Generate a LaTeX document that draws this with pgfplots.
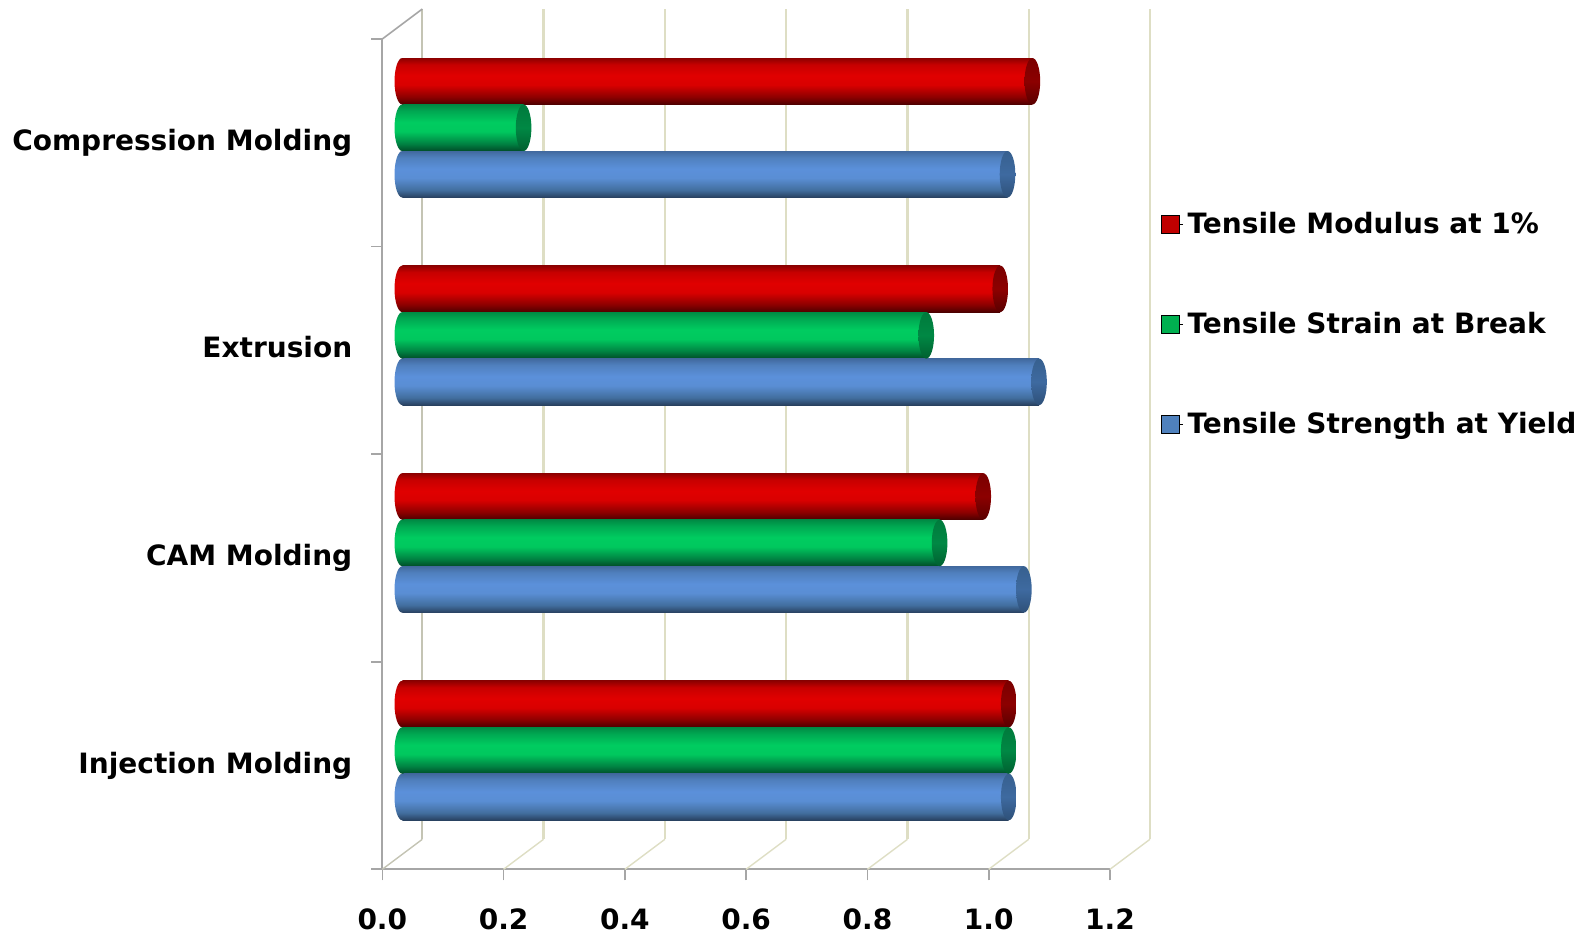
\documentclass[border=0pt]{standalone}
\usepackage{fontspec}
\setmainfont{DejaVu Sans}
\usepackage{pgfplots}
\pgfplotsset{compat=1.18}

% 1 reference pixel = 0.5pt
\def\u{0.5pt}

\definecolor{axisgray}{HTML}{A6A6A6}
\definecolor{wallline}{HTML}{DEDEC4}
\definecolor{wallzero}{HTML}{C4C4B4}
\definecolor{keyred}{HTML}{C00000}
\definecolor{keygreen}{HTML}{00B050}
\definecolor{keyblue}{HTML}{4F81BD}

% tikz maps the path's box on 25bp..75bp of the shading; 25bp is the bottom edge
\pgfdeclareverticalshading{redcyl}{100bp}{
  color(0bp)=(red!30!black); color(25bp)=(red!30!black); color(33bp)=(red!55!black);
  color(46bp)=(red!85!black); color(56bp)=(red!88!black); color(68bp)=(red!78!black);
  color(75bp)=(red!55!black); color(100bp)=(red!55!black)}
\definecolor{g1}{HTML}{004C28}\definecolor{g2}{HTML}{008242}\definecolor{g3}{HTML}{00C85E}
\definecolor{g4}{HTML}{00CC60}\definecolor{g5}{HTML}{00A852}\definecolor{g6}{HTML}{008A44}
\pgfdeclareverticalshading{greencyl}{100bp}{
  color(0bp)=(g1); color(25bp)=(g1); color(33bp)=(g2);
  color(46bp)=(g3); color(56bp)=(g4); color(68bp)=(g5);
  color(75bp)=(g6); color(100bp)=(g6)}
\definecolor{b1}{HTML}{28405F}\definecolor{b2}{HTML}{426E9E}\definecolor{b3}{HTML}{5A8ED4}
\definecolor{b4}{HTML}{5B90DA}\definecolor{b5}{HTML}{5080BE}\definecolor{b6}{HTML}{41699E}
\pgfdeclareverticalshading{bluecyl}{100bp}{
  color(0bp)=(b1); color(25bp)=(b1); color(33bp)=(b2);
  color(46bp)=(b3); color(56bp)=(b4); color(68bp)=(b5);
  color(75bp)=(b6); color(100bp)=(b6)}
% end faces
\pgfdeclareverticalshading{redcap}{100bp}{
  color(0bp)=(red!35!black); color(25bp)=(red!35!black); color(50bp)=(red!55!black); color(75bp)=(red!48!black); color(100bp)=(red!48!black)}
\definecolor{gc1}{HTML}{006030}\definecolor{gc2}{HTML}{008844}\definecolor{gc3}{HTML}{007A3C}
\pgfdeclareverticalshading{greencap}{100bp}{
  color(0bp)=(gc1); color(25bp)=(gc1); color(50bp)=(gc2); color(75bp)=(gc3); color(100bp)=(gc3)}
\definecolor{bc1}{HTML}{2E5078}\definecolor{bc2}{HTML}{3E6AA0}\definecolor{bc3}{HTML}{37608F}
\pgfdeclareverticalshading{bluecap}{100bp}{
  color(0bp)=(bc1); color(25bp)=(bc1); color(50bp)=(bc2); color(75bp)=(bc3); color(100bp)=(bc3)}

\pgfdeclareplotmark{cyl end}{\shade[draw=none] (0,0) ellipse ({7.8*\u} and {23.25*\u});}

\pgfplotsset{frame/.style={
    scale only axis, anchor=south west,
    width={727.7*\u}, height={830.3*\u},
    xmin=0, xmax=1.2, ymin=0, ymax=4,
    clip=false,
  }
}

% one cylinder (each its own plot, or one shading spans all bars of a series):
% value, position in category units, body shading, end shading
\newcommand{\cyl}[4]{%
  \addplot[forget plot, only marks, mark=cyl end, mark options={draw=none, shading=#3}] coordinates {(0,#2)};
  \addplot[forget plot, xbar, bar width=23.25pt, bar shift=0pt, draw=none, shading=#3] coordinates {(#1,#2)};
  \addplot[forget plot, only marks, mark=cyl end, mark options={draw=none, shading=#4}] coordinates {(#1,#2)};
}

\begin{document}
\begin{tikzpicture}
  \path[use as bounding box] (0,0) rectangle ({1589*\u},{936*\u});

  % back wall grid
  \begin{axis}[frame, at={({422.3*\u},{96.7*\u})},
      axis line style={draw=none}, tick style={draw=none},
      xtick={0.2,0.4,...,1.2}, ytick=\empty, xticklabels={},
      extra x ticks={0}, extra x tick labels={},
      extra x tick style={grid style={wallzero, line width=1pt}},
      xmajorgrids, grid style={wallline, line width=1.1pt}]
  \end{axis}

  % front axis with the ticks and labels
  \begin{axis}[frame, at={({382.3*\u},{66.7*\u})},
      axis x line*=bottom, axis y line*=left,
      axis line style={axisgray, line width=1pt, -},
      tick style={axisgray, line width=0.8pt},
      tick align=outside, major tick length={11*\u},
      xtick={0,0.2,...,1.2},
      ytick={0,1,2,3,4},
      y tick label as interval,
      yticklabels={Injection Molding,CAM Molding,Extrusion,Compression Molding},
      tick label style={font=\fontsize{14}{16}\selectfont\bfseries},
      xticklabel style={/pgf/number format/fixed, /pgf/number format/fixed zerofill,
        /pgf/number format/precision=1, /pgf/number format/assume math mode=true,
        yshift={-21*\u}},
      yticklabel style={xshift={-12*\u}, text height=10.5pt, text depth=3pt},
    ]
    % floor and side edges running back to the wall
    \foreach \t in {0.2,0.4,0.6,0.8,1.0,1.2} {
      \edef\tmp{\noexpand\draw[wallline, line width=0.7pt] (axis cs:\t,0) -- ++({40*\u},{30*\u});}
      \tmp
    }
    \draw[wallzero, line width=0.7pt] (axis cs:0,0) -- ++({40*\u},{30*\u});
    \draw[axisgray, line width=0.8pt] (axis cs:0,4) -- ++({40*\u},{30*\u});
  \end{axis}

  % bars sit halfway between front and wall
  \begin{axis}[frame, at={({402.3*\u},{81.7*\u})},
      hide axis,
      legend style={draw=none, fill=none, at={(1.034,0.783)}, anchor=north west,
        font=\fontsize{14}{16}\selectfont\bfseries, row sep={67.5*\u}, legend cell align=left},
      legend image code/.code={\path (0,0) -- ({21.6*\u},0); \fill[#1] (0,{-8.8*\u}) rectangle ({17.6*\u},{8.8*\u});},
    ]
    % Tensile Modulus at 1%
    \cyl{1.00}{0.724}{redcyl}{redcap}
    \cyl{0.958}{1.724}{redcyl}{redcap}
    \cyl{0.986}{2.724}{redcyl}{redcap}
    \cyl{1.039}{3.724}{redcyl}{redcap}
    % Tensile Strain at Break
    \cyl{1.00}{0.5}{greencyl}{greencap}
    \cyl{0.886}{1.5}{greencyl}{greencap}
    \cyl{0.864}{2.5}{greencyl}{greencap}
    \cyl{0.20}{3.5}{greencyl}{greencap}
    % Tensile Strength at Yield
    \cyl{1.00}{0.276}{bluecyl}{bluecap}
    \cyl{1.025}{1.276}{bluecyl}{bluecap}
    \cyl{1.05}{2.276}{bluecyl}{bluecap}
    \cyl{0.998}{3.276}{bluecyl}{bluecap}

    % legend keys
    \addlegendimage{fill=keyred}
    \addlegendentry{Tensile Modulus at 1\%}
    \addlegendimage{fill=keygreen}
    \addlegendentry{Tensile Strain at Break}
    \addlegendimage{fill=keyblue}
    \addlegendentry{Tensile Strength at Yield}
  \end{axis}
\end{tikzpicture}
\end{document}
